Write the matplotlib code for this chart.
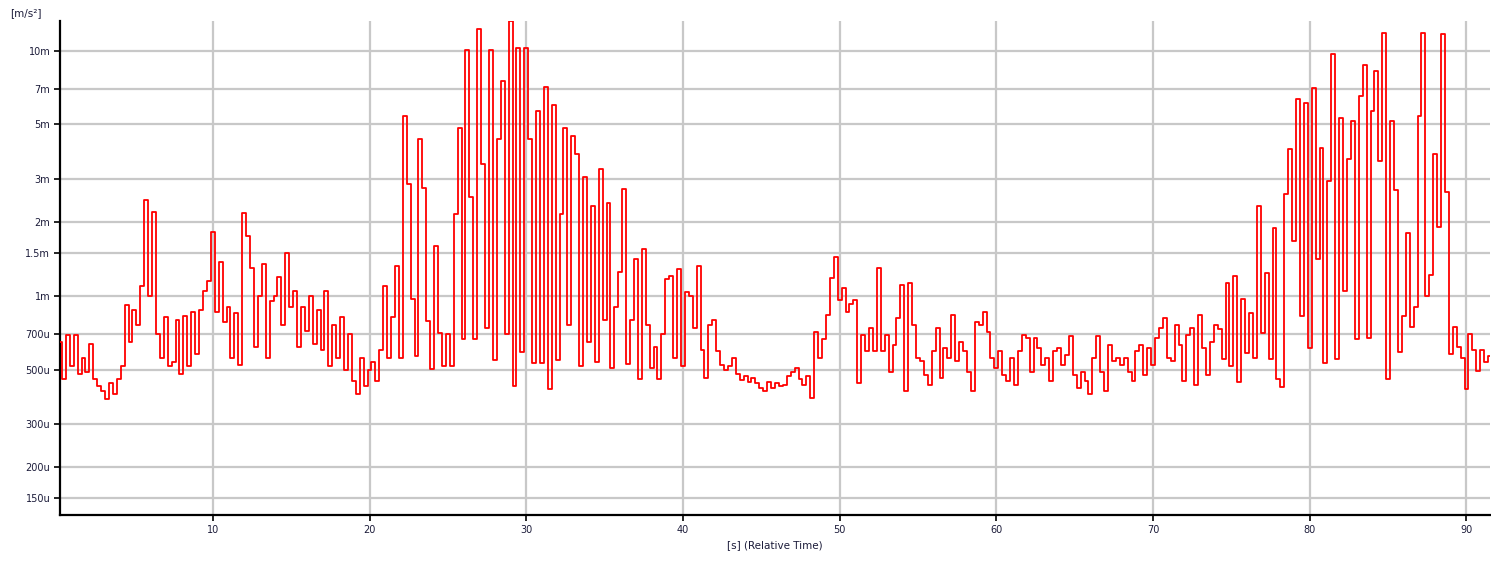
import matplotlib
matplotlib.use("Agg")
import matplotlib.pyplot as plt
import numpy as np

# acceleration trace, one value every 0.25 s starting at 0.25 s  [µm/s²]
t_start = 0.25
t_step = 0.25
accel_u = [
    650, 460, 690, 520,   690, 480, 560, 490,   640, 460, 430, 410,
    380, 440, 400, 460,   520, 920, 650, 880,   760, 1100, 2450, 1000,
    2200, 700, 560, 820,  520, 540, 800, 480,   830, 520, 860, 580,
    880, 1050, 1150, 1820,
    860, 1376, 780, 900,  560, 850, 521, 2170,  1750, 1300, 620, 1000,
    1350, 560, 950, 1000, 1200, 760, 1500, 900, 1050, 620, 900, 720,
    1000, 640, 880, 600,  1050, 520, 760, 560,  820, 500, 700, 450,
    400, 560, 430, 500,
    540, 450, 600, 1100,  560, 820, 1320, 560,  5400, 2850, 970, 570,
    4370, 2760, 790, 504, 1600, 709, 519, 700,  520, 2150, 4840, 666,
    10100, 2530, 666, 12200, 3450, 740, 10100, 550, 4370, 7520, 700, 13140,
    430, 10250, 590, 10250,
    4370, 533, 5660, 533, 7100, 416, 6000, 550, 2160, 4850, 760, 4480,
    3780, 520, 3040, 650, 2330, 540, 3280, 800, 2400, 508, 900, 1250,
    2720, 530, 800, 1420, 460, 1550, 760, 508,  620, 460, 700, 1170,
    1210, 560, 1290, 520,
    1040, 1000, 740, 1320, 600, 463, 760, 800,  594, 524, 500, 520,
    558, 480, 455, 470,   448, 463, 440, 420,   409, 445, 420, 440,
    430, 435, 470, 490,   510, 460, 435, 470,   384, 715, 560, 670,
    837, 1180, 1445, 960,
    1074, 860, 930, 960,  440, 694, 594, 739,   594, 1300, 594, 694,
    492, 632, 811, 1110,  409, 1126, 762, 558,  541, 477, 435, 594,
    739, 463, 613, 558,   837, 541, 652, 594,   492, 409, 786, 762,
    864, 716, 558, 508,
    594, 477, 449, 558,   435, 594, 694, 673,   492, 673, 613, 524,
    558, 449, 594, 613,   524, 576, 684, 477,   422, 492, 449, 400,
    558, 684, 492, 409,   632, 541, 558, 524,   558, 492, 449, 594,
    632, 477, 613, 524,
    673, 739, 811, 558,   541, 762, 632, 449,   694, 739, 435, 837,
    613, 477, 652, 762,   732, 552, 1133, 519,  1206, 444, 969, 588,
    855, 561, 2323, 709,  1244, 552, 1898, 458, 424, 2593, 3956, 1675,
    6324, 829, 6133, 616,
    7048, 1410, 4012, 535, 2937, 9642, 552, 5320, 1048, 3600, 5165, 666,
    6524, 8765, 677, 5680, 8230, 3560, 11800, 460, 5170, 2700, 590, 825,
    1800, 750, 900, 5400, 11800, 1000, 1220, 3790, 1910, 11650, 2650, 580,
    750, 620, 560, 416,
    700, 600, 493, 600,   540, 570,
]

y_ticks = [150e-6, 200e-6, 300e-6, 500e-6, 700e-6, 1e-3, 1.5e-3, 2e-3,
           3e-3, 5e-3, 7e-3, 10e-3]
y_labels = ["150u", "200u", "300u", "500u", "700u", "1m", "1.5m", "2m",
            "3m", "5m", "7m", "10m"]
x_ticks = [10, 20, 30, 40, 50, 60, 70, 80, 90]

t = t_start + t_step * np.arange(len(accel_u))
accel = np.array(accel_u) * 1e-6

W, H = 1491, 563
fig = plt.figure(figsize=(W / 100, H / 100), dpi=100)
ax = fig.add_axes([60 / W, 1 - 515 / H, 1430 / W, (515 - 21) / H])

ax.plot(t, accel, color="#ff0000", lw=1.3, drawstyle="steps-mid", zorder=3)

ax.set_yscale("log")
ax.set_xlim(0.25, 91.5)
ax.set_ylim(1.28e-4, 1.32e-2)
ax.set_yticks(y_ticks)
ax.set_yticklabels(y_labels)
ax.yaxis.set_minor_locator(matplotlib.ticker.NullLocator())
ax.set_xticks(x_ticks)
ax.set_xticklabels([str(v) for v in x_ticks])

ax.grid(True, color="#c8c8c8", lw=1.6, zorder=0)
ax.set_axisbelow(True)
for side in ["top", "right"]:
    ax.spines[side].set_visible(False)
for side in ["left", "bottom"]:
    ax.spines[side].set_linewidth(1.6)
    ax.spines[side].set_color("black")

label_col = "#1c1c3a"
ax.tick_params(axis="both", direction="out", length=4, width=1.2,
               labelsize=7, labelcolor=label_col, pad=3)
ax.set_xlabel("[s] (Relative Time)", fontsize=7.5, color=label_col, labelpad=4)
fig.text(10 / W, 1 - 13 / H, "[m/s²]", fontsize=7.5, color=label_col,
         va="center", ha="left")

fig.savefig("out.png", dpi=100)
